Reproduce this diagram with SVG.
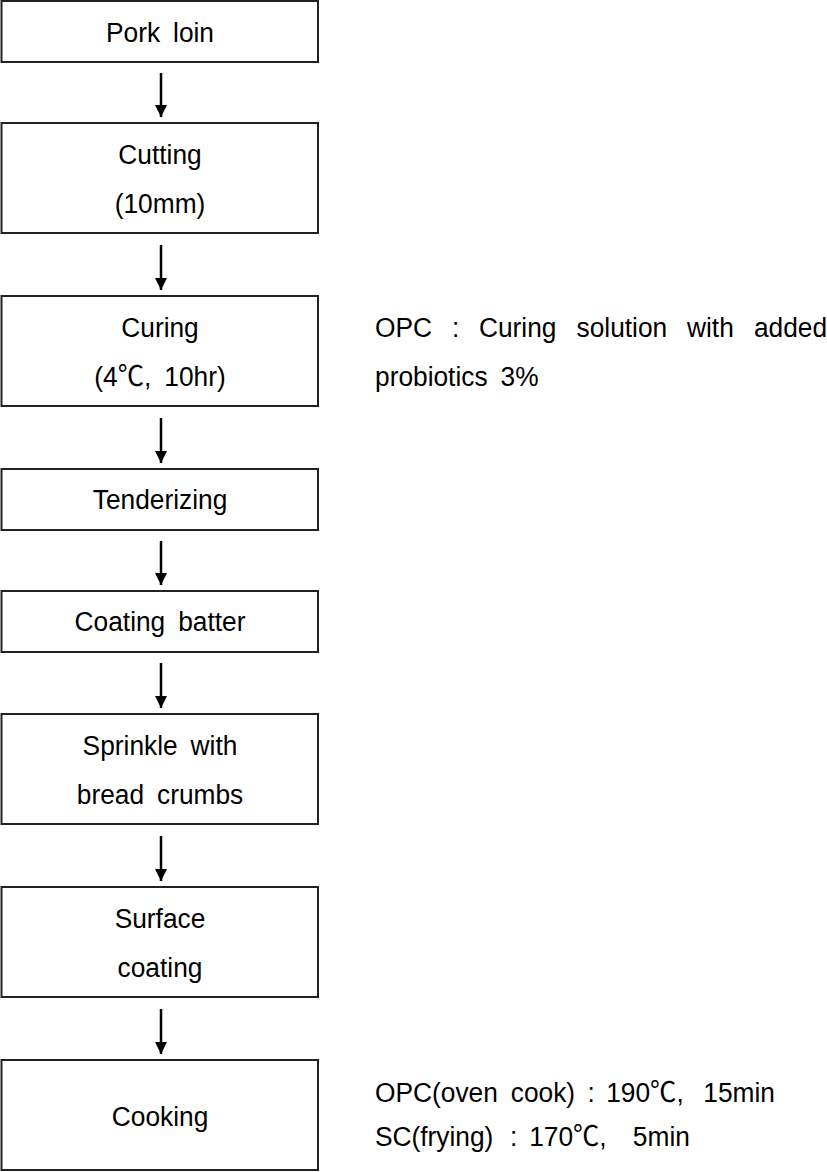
<svg xmlns="http://www.w3.org/2000/svg" width="827" height="1172" viewBox="0 0 827 1172">
<defs>
<style>
.box{fill:#fff;stroke:#222;stroke-width:2}
.t{font-family:"Liberation Sans","Noto Sans CJK KR",sans-serif;font-size:28px;fill:#000;word-spacing:6px}
.c{text-anchor:middle}
.e{text-anchor:end}
.con{stroke:#000;stroke-width:2.5;fill:none}
</style>
<marker id="ah" markerUnits="userSpaceOnUse" markerWidth="13" markerHeight="16" refX="12" refY="6.5" orient="auto" viewBox="0 0 13 13">
<path d="M0,0.5 L12,6.5 L0,12.5 Z" fill="#000"/>
</marker>
</defs>
<rect width="827" height="1172" fill="#fff"/>
<g id="connectors">
<line class="con" x1="161" y1="73" x2="161" y2="117" marker-end="url(#ah)"/>
<line class="con" x1="161" y1="245" x2="161" y2="290" marker-end="url(#ah)"/>
<line class="con" x1="161" y1="418" x2="161" y2="463" marker-end="url(#ah)"/>
<line class="con" x1="161" y1="541" x2="161" y2="585" marker-end="url(#ah)"/>
<line class="con" x1="161" y1="663" x2="161" y2="708" marker-end="url(#ah)"/>
<line class="con" x1="161" y1="836" x2="161" y2="881" marker-end="url(#ah)"/>
<line class="con" x1="161" y1="1009" x2="161" y2="1054" marker-end="url(#ah)"/>
</g>
<g id="n1"><rect class="box" x="1.5" y="1" width="316.5" height="61"/>
<text class="t c" transform="translate(160,42) scale(0.94,1)">Pork loin</text></g>
<g id="n2"><rect class="box" x="1.5" y="123" width="316.5" height="110"/>
<text class="t c" transform="translate(160,164) scale(0.94,1)">Cutting</text>
<text class="t c" transform="translate(160,213) scale(0.94,1)">(10mm)</text></g>
<g id="n3"><rect class="box" x="1.5" y="296" width="316.5" height="110"/>
<text class="t c" transform="translate(160,337) scale(0.94,1)">Curing</text>
<text class="t c" transform="translate(160,386) scale(0.94,1)">(4℃, 10hr)</text></g>
<g id="n4"><rect class="box" x="1.5" y="469" width="316.5" height="61"/>
<text class="t c" transform="translate(160,509) scale(0.94,1)">Tenderizing</text></g>
<g id="n5"><rect class="box" x="1.5" y="591" width="316.5" height="61"/>
<text class="t c" transform="translate(160,631) scale(0.94,1)">Coating batter</text></g>
<g id="n6"><rect class="box" x="1.5" y="714" width="316.5" height="110"/>
<text class="t c" transform="translate(160,755) scale(0.94,1)">Sprinkle with</text>
<text class="t c" transform="translate(160,804) scale(0.94,1)">bread crumbs</text></g>
<g id="n7"><rect class="box" x="1.5" y="887" width="316.5" height="110"/>
<text class="t c" transform="translate(160,928) scale(0.94,1)">Surface</text>
<text class="t c" transform="translate(160,977) scale(0.94,1)">coating</text></g>
<g id="n8"><rect class="box" x="1.5" y="1060" width="316.5" height="110"/>
<text class="t c" transform="translate(160,1126) scale(0.94,1)">Cooking</text></g>
<g id="note-curing">
<text class="t" transform="translate(375,337) scale(0.94,1)"><tspan x="0">OPC</tspan><tspan x="82">:</tspan><tspan x="110.6">Curing</tspan><tspan x="214.4">solution</tspan><tspan x="331.9">with</tspan><tspan x="480.9" class="e">added</tspan></text>
<text class="t" transform="translate(375,386) scale(0.94,1)">probiotics 3%</text>
</g>
<g id="note-cooking">
<text class="t" transform="translate(375,1102) scale(0.94,1)"><tspan x="0">OPC(oven cook)</tspan><tspan x="226">:</tspan><tspan x="246">190℃,</tspan><tspan x="425.5" class="e">15min</tspan></text>
<text class="t" transform="translate(375,1146) scale(0.94,1)"><tspan x="0">SC(frying)</tspan><tspan x="143.6">:</tspan><tspan x="164">170℃,</tspan><tspan x="335" class="e">5min</tspan></text>
</g>
</svg>
